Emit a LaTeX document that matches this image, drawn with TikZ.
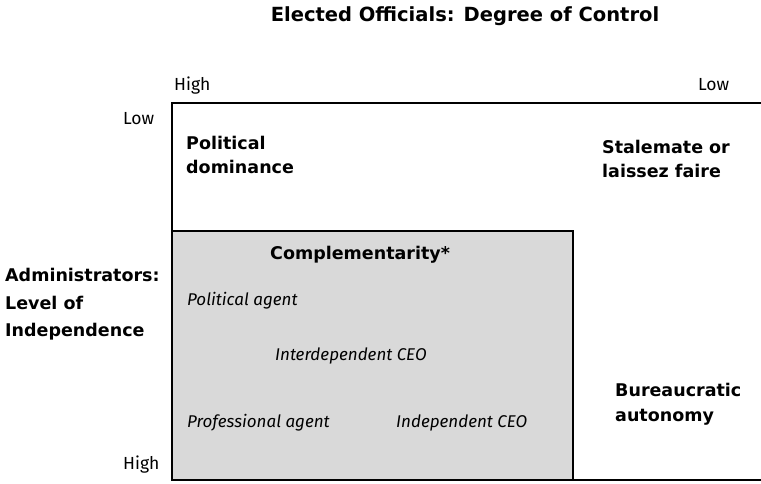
\documentclass[tikz,border=0pt]{standalone}
\usepackage{fontspec}
\setmainfont{Fira Sans}
\newfontfamily\heavyfont{DejaVu Sans}
\begin{document}
\begin{tikzpicture}[x=1pt,y=-1pt,
  lbl/.style={anchor=base west,inner sep=0pt,font=\fontsize{17.5}{20}\selectfont},
  bold/.style={lbl,font=\fontsize{17.5}{20}\selectfont\heavyfont\bfseries},
  ital/.style={lbl,font=\fontsize{17}{20}\selectfont\itshape},
  frame/.style={line width=1.8pt,draw=black}]
\useasboundingbox (0,0) rectangle (761,483);
% shaded quadrant: complementarity
\filldraw[frame,fill=black!15] (172,231) rectangle (573,480);
% outer frame, open to the right
\draw[frame] (762,103) -- (172,103) -- (172,480) -- (762,480);
% title and axis ends
\node[anchor=base,inner sep=0pt,font=\fontsize{19.5}{22}\selectfont\heavyfont\bfseries] (title) at (465,21) {Elected Officials: Degree of Control};
\node[lbl] (xhigh) at (174,90) {High};
\node[lbl] (xlow) at (698,90) {Low};
\node[lbl] (ylow) at (123,124) {Low};
\node[lbl] (yhigh) at (123,469) {High};
% vertical axis title
\node[bold] (adm) at (5,281) {Administrators:};
\node[bold] (lev) at (5,309) {Level of};
\node[bold] (ind) at (5,336) {Independence};
% quadrant names
\node[bold] (pol1) at (186,149) {Political};
\node[bold] (pol2) at (186,173) {dominance};
\node[bold] (st1) at (602,153) {Stalemate or};
\node[bold] (st2) at (602,177) {laissez faire};
\node[bold] (comp) at (270,259) {Complementarity*};
\node[bold] (bur1) at (615,396) {Bureaucratic};
\node[bold] (bur2) at (615,421) {autonomy};
% roles within complementarity
\node[ital] (pa) at (187,305) {Political agent};
\node[ital] (ic) at (275,360) {Interdependent CEO};
\node[ital] (pra) at (187,427) {Professional agent};
\node[ital] (indc) at (396,427) {Independent CEO};
\end{tikzpicture}
\end{document}
